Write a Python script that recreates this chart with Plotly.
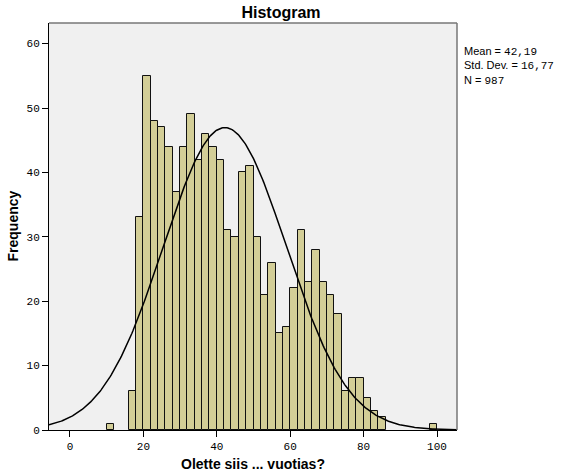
import numpy as np
import plotly.graph_objects as go

# Histogram data: bin left edges (width 2) and frequencies
bin_starts = [10] + list(range(16, 86, 2)) + [98]
counts = [1,
          6, 33, 55, 48, 47, 44, 37, 44, 49, 42, 46, 44, 42, 31, 30, 40, 41, 30,
          21, 26, 15, 16, 22, 31, 23, 28, 23, 21, 18, 6, 8, 8, 5, 3, 2,
          1]
bin_width = 2
mean_val = 42.19
sd_val = 16.77
n_val = 987

x_ticks = [0, 20, 40, 60, 80, 100]
y_ticks = [0, 10, 20, 30, 40, 50, 60]

centers = [b + bin_width / 2 for b in bin_starts]

x_range = [-5.72, 105.45]
xc = np.linspace(x_range[0], x_range[1], 400)
yc = n_val * bin_width * np.exp(-0.5 * ((xc - mean_val) / sd_val) ** 2) / (sd_val * np.sqrt(2 * np.pi))

W, H = 562, 474
L, R, T, B = 49, 457, 23, 430
pw, ph = R - L, B - T

fig = go.Figure()
fig.add_trace(go.Bar(
    x=centers, y=counts, width=bin_width,
    marker=dict(color="#D3CE97", line=dict(color="#111111", width=1)),
    hoverinfo="x+y", showlegend=False,
))
fig.add_trace(go.Scatter(
    x=xc, y=yc, mode="lines",
    line=dict(color="black", width=1.5),
    hoverinfo="skip", showlegend=False,
))

mono = "Liberation Mono, DejaVu Sans Mono, monospace"
sans = "Liberation Sans, Arial, sans-serif"

def fmt(v):
    return f"{v:.2f}".replace(".", ",")

fig.update_layout(
    width=W, height=H,
    margin=dict(l=L, r=W - R, t=T, b=H - B, autoexpand=False),
    paper_bgcolor="white",
    plot_bgcolor="#F0F0F0",
    bargap=0,
    title=dict(text="<b>Histogram</b>", x=0.5, xanchor="center", y=1 - 12 / H, yanchor="middle",
               font=dict(family=sans, size=16, color="black")),
    xaxis=dict(
        range=x_range, tickmode="array", tickvals=x_ticks, ticktext=[str(v) for v in x_ticks],
        ticks="outside", ticklen=6, tickcolor="black", tickwidth=1,
        showgrid=False, zeroline=False, automargin=False,
        showline=True, linecolor="black", linewidth=1, mirror=False,
        tickfont=dict(family=mono, size=11, color="black"),
    ),
    yaxis=dict(
        range=[0, 63.2], tickmode="array", tickvals=y_ticks, ticktext=[str(v) for v in y_ticks],
        ticks="outside", ticklen=6, tickcolor="black", tickwidth=1,
        showgrid=False, zeroline=False, automargin=False,
        showline=True, linecolor="black", linewidth=1, mirror=False,
        tickfont=dict(family=mono, size=11, color="black"),
    ),
    shapes=[
        dict(type="line", xref="paper", yref="paper", x0=0, x1=1, y0=1, y1=1,
             line=dict(color="#777777", width=1.5)),
        dict(type="line", xref="paper", yref="paper", x0=1, x1=1, y0=0, y1=1,
             line=dict(color="#777777", width=1.5)),
    ],
    annotations=[
        dict(
            xref="paper", yref="paper", x=1, y=1 - 20 / ph, xanchor="left", yanchor="top", xshift=5,
            align="left", showarrow=False,
            text=(f"Mean = <span style='font-family:{mono}'>{fmt(mean_val)}</span><br>"
                  f"Std. Dev. = <span style='font-family:{mono}'>{fmt(sd_val)}</span><br>"
                  f"N = <span style='font-family:{mono}'>{n_val}</span>"),
            font=dict(family=sans, size=11, color="black"),
        ),
        dict(
            xref="paper", yref="paper", x=0.5, y=-(464 - B) / ph, xanchor="center", yanchor="middle",
            showarrow=False, text="<b>Olette siis ... vuotias?</b>",
            font=dict(family=sans, size=14, color="black"),
        ),
        dict(
            xref="paper", yref="paper", x=-(L - 12) / pw, y=0.5, xanchor="center", yanchor="middle",
            showarrow=False, text="<b>Frequency</b>", textangle=-90,
            font=dict(family=sans, size=14, color="black"),
        ),
    ],
)

fig.write_html("out.html", config={"displayModeBar": False},
               post_script="document.body.style.margin='0';document.body.style.overflow='hidden';")
